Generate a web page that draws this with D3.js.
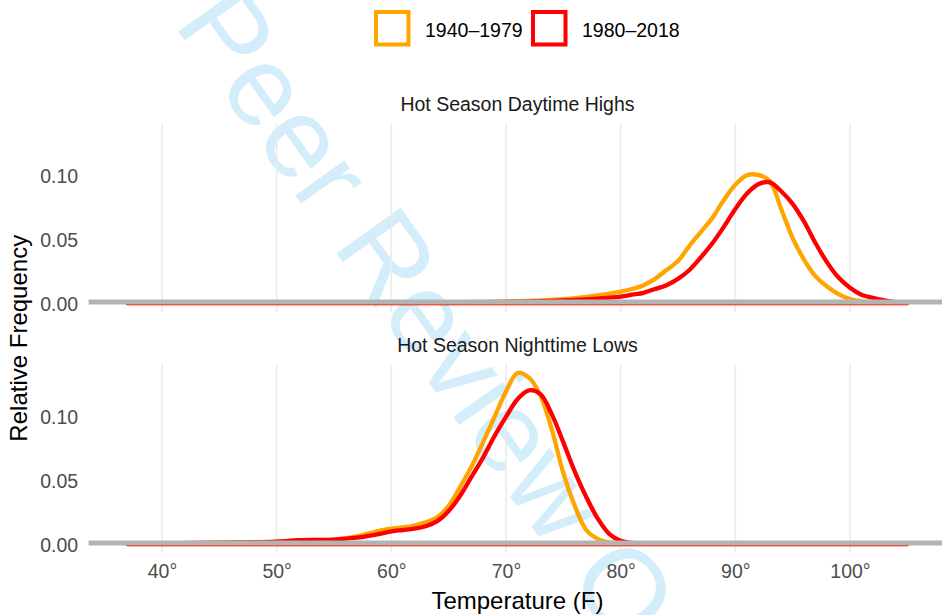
<!DOCTYPE html>
<html>
<head>
<meta charset="utf-8">
<script src="https://cdn.jsdelivr.net/npm/d3@7"></script>
<style>
  body { margin: 0; background: #fff; }
  text { font-family: "Liberation Sans", Arial, Helvetica, sans-serif; }
</style>
</head>
<body>
<script>
// density curves (relative frequency per degree F)
var seriesNames = ["1940\u20131979", "1980\u20132018"];
var seriesColors = ["#FFA500", "#FF0000"];
var panelTitles = ["Hot Season Daytime Highs", "Hot Season Nighttime Lows"];

var highsTemps = [37, 50, 60, 65, 70, 75, 78, 80, 81, 82, 83, 84, 85, 86, 87, 88, 89, 90, 91, 92, 93, 94, 95, 96, 97, 98, 99, 100, 101, 102, 103, 104, 105];
var highsEarly = [0, 0, 0.0002, 0.0006, 0.0012, 0.003, 0.006, 0.009, 0.011, 0.014, 0.019, 0.026, 0.033, 0.045, 0.056, 0.067, 0.081, 0.093, 0.1005, 0.1008, 0.096, 0.074, 0.051, 0.034, 0.021, 0.013, 0.007, 0.003, 0.0013, 0.0005, 0.0002, 0.0001, 0];
var highsLate = [0, 0, 0.0001, 0.0004, 0.0008, 0.002, 0.0035, 0.005, 0.0065, 0.008, 0.011, 0.014, 0.019, 0.026, 0.036, 0.047, 0.06, 0.074, 0.086, 0.0935, 0.095, 0.088, 0.078, 0.064, 0.047, 0.032, 0.02, 0.012, 0.0065, 0.004, 0.002, 0.0007, 0.0002];

var lowsTemps = [37, 40, 45, 50, 52, 55, 57, 59, 60, 61, 62, 63, 64, 65, 66, 67, 68, 69, 70, 71, 72, 73, 74, 75, 76, 77, 78, 79, 80, 81, 83, 90, 105];
var lowsEarly = [0.0002, 0.0005, 0.001, 0.0018, 0.003, 0.0035, 0.006, 0.0105, 0.012, 0.013, 0.0145, 0.017, 0.021, 0.03, 0.045, 0.061, 0.08, 0.1, 0.12, 0.1345, 0.131, 0.117, 0.09, 0.056, 0.03, 0.011, 0.004, 0.0012, 0.0003, 0.0001, 0, 0, 0];
var lowsLate = [0.0002, 0.0005, 0.001, 0.0018, 0.003, 0.0035, 0.005, 0.008, 0.01, 0.011, 0.012, 0.014, 0.018, 0.026, 0.038, 0.053, 0.068, 0.085, 0.1, 0.114, 0.121, 0.118, 0.102, 0.08, 0.057, 0.037, 0.02, 0.008, 0.0025, 0.0008, 0.0001, 0, 0];

var xTicks = [40, 50, 60, 70, 80, 90, 100];
var yTicks = [0, 0.05, 0.1];

var width = 942, height = 615;
var panelTops = [123.5, 364.5];
var panelH = 188.5;

var svg = d3.select("body").append("svg").attr("width", width).attr("height", height);
svg.append("rect").attr("width", width).attr("height", height).attr("fill", "white");

// watermark from the journal pdf
var wm = svg.append("g").attr("transform", "translate(173,24) rotate(54.5)");
var probe = wm.append("text").attr("font-size", 114).text("For\u00a0");
var forW = probe.node().getComputedTextLength();
probe.remove();
wm.append("text")
  .attr("x", -forW)
  .attr("y", 0)
  .attr("font-size", 114)
  .attr("fill", "#d3edfa")
  .text("For Peer Review Only");

var x = d3.scaleLinear().domain([33.6, 108.4]).range([88.6, 946.3]);

var panels = [
  {title: panelTitles[0], temps: highsTemps, series: [highsEarly, highsLate]},
  {title: panelTitles[1], temps: lowsTemps, series: [lowsEarly, lowsLate]}
];

panels.forEach(function(p, i){
  var top = panelTops[i];
  var y = d3.scaleLinear().domain([-0.0071, 0.1413]).range([top + panelH, top]);
  var g = svg.append("g");

  // vertical grid only
  g.selectAll("line.grid")
    .data(xTicks)
    .enter().append("line")
      .attr("class", "grid")
      .attr("x1", function(d){ return x(d); })
      .attr("x2", function(d){ return x(d); })
      .attr("y1", top)
      .attr("y2", top + panelH)
      .attr("stroke", "#ebebeb")
      .attr("stroke-width", 1.6);

  g.append("text")
    .attr("x", (x.range()[0] + x.range()[1]) / 2)
    .attr("y", top - 12.5)
    .attr("text-anchor", "middle")
    .attr("font-size", 19.5)
    .attr("fill", "#1a1a1a")
    .text(p.title);

  var yAxis = d3.axisLeft(y).tickValues(yTicks).tickFormat(d3.format(".2f")).tickSize(0).tickPadding(10.5);
  var ya = g.append("g").attr("transform", "translate(" + x.range()[0] + ",0)").call(yAxis);
  ya.select(".domain").remove();
  ya.selectAll("text")
    .attr("font-size", 19.5)
    .attr("fill", "#4d4d4d")
    .attr("dy", "0.36em")
    .style("font-family", "'Liberation Sans', Arial, sans-serif");

  var line = d3.line()
    .x(function(d){ return x(d[0]); })
    .y(function(d){ return y(Math.max(0, d[1])); })
    .curve(d3.curveCatmullRom.alpha(0.5));

  p.series.forEach(function(vals, k){
    var pts = p.temps.map(function(t, j){ return [t, vals[j]]; });
    var d = line(pts) + "L" + x(pts[pts.length - 1][0]) + "," + y(0) + "L" + x(pts[0][0]) + "," + y(0) + "Z";
    g.append("path")
      .attr("d", d)
      .attr("fill", "none")
      .attr("stroke", seriesColors[k])
      .attr("stroke-width", 4.3)
      .attr("stroke-linejoin", "round");
  });

  // zero line
  g.append("line")
    .attr("x1", x.range()[0])
    .attr("x2", x.range()[1])
    .attr("y1", y(0) - 1)
    .attr("y2", y(0) - 1)
    .attr("stroke", "#b3b3b3")
    .attr("stroke-width", 4.8);
});

// x axis under the lower panel
var xa = svg.append("g").attr("transform", "translate(0,563)")
  .call(d3.axisBottom(x).tickValues(xTicks).tickFormat(function(d){ return d + "\u00b0"; }).tickSize(0).tickPadding(0));
xa.select(".domain").remove();
xa.selectAll("text")
  .attr("font-size", 19.5)
  .attr("fill", "#4d4d4d")
  .attr("dy", "0.75em")
  .style("font-family", "'Liberation Sans', Arial, sans-serif");

svg.append("text")
  .attr("x", (x.range()[0] + x.range()[1]) / 2)
  .attr("y", 608.5)
  .attr("text-anchor", "middle")
  .attr("font-size", 24)
  .attr("fill", "black")
  .text("Temperature (F)");

svg.append("text")
  .attr("transform", "translate(27," + (panelTops[0] + panelTops[1] + panelH) / 2 + ") rotate(-90)")
  .attr("text-anchor", "middle")
  .attr("font-size", 24)
  .attr("fill", "black")
  .text("Relative Frequency");

// legend
var legendX = [376, 533];
var leg = svg.selectAll("g.leg")
  .data(seriesNames)
  .enter().append("g")
    .attr("class", "leg")
    .attr("transform", function(d, i){ return "translate(" + legendX[i] + ",12)"; });
leg.append("rect")
  .attr("width", 32.5)
  .attr("height", 32.5)
  .attr("fill", "white")
  .attr("stroke", function(d, i){ return seriesColors[i]; })
  .attr("stroke-width", 4);
leg.append("text")
  .attr("x", 49)
  .attr("y", 24.5)
  .attr("font-size", 19.5)
  .attr("fill", "black")
  .text(function(d){ return d; });
</script>
</body>
</html>
